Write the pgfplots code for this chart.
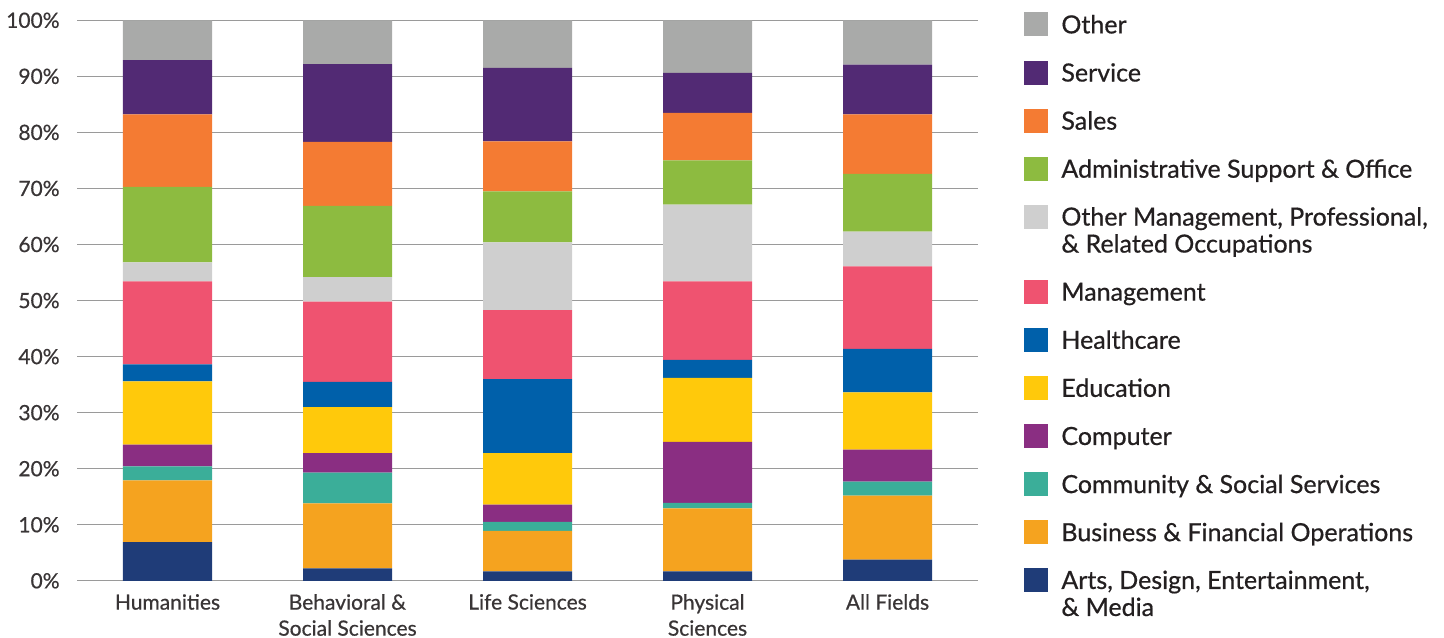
\documentclass[border=0pt]{standalone}
\usepackage{fontspec}
\setmainfont{Lato}[FakeBold=0.6]
\usepackage{pgfplots}
\usepackage{pgfplotstable}
\pgfplotsset{compat=1.18}

\definecolor{arts}{HTML}{1F3C78}
\definecolor{business}{HTML}{F5A31F}
\definecolor{community}{HTML}{3BAE99}
\definecolor{computer}{HTML}{8A2E82}
\definecolor{education}{HTML}{FFC90B}
\definecolor{healthcare}{HTML}{0060AA}
\definecolor{mgmt}{HTML}{EF5370}
\definecolor{othermgmt}{HTML}{CFCFCF}
\definecolor{admin}{HTML}{8DBB40}
\definecolor{sales}{HTML}{F47B33}
\definecolor{service}{HTML}{522A74}
\definecolor{other}{HTML}{A9AAA9}
\definecolor{txt}{HTML}{231F20}
\definecolor{gridc}{HTML}{9A9A9A}

% shares in percent, bottom to top
\pgfplotstableread{
x arts business community computer education healthcare mgmt othermgmt admin sales service other
0 6.9 11.0 2.5 3.9 11.3 3.0 14.8 3.4 13.5 12.9 9.7 7.1
1 2.2 11.6 5.5 3.5 8.2 4.5 14.3 4.4 12.7 11.4 13.9 7.8
2 1.7 7.2 1.6 3.1 9.2 13.2 12.3 12.1 9.1 8.9 13.1 8.5
3 1.7 11.2 1.0 10.9 11.4 3.2 14.0 13.7 7.9 8.5 7.1 9.4
4 3.8 11.4 2.5 5.7 10.2 7.8 14.7 6.2 10.3 10.6 8.9 7.9
}\datatable

\begin{document}
\begin{tikzpicture}
\begin{axis}[
    scale only axis,
    width=450pt, height=280.25pt,
    ybar stacked,
    bar width=44.5pt,
    xmin=-0.5, xmax=4.5,
    ymin=0, ymax=100,
    xtick={0,...,4},
    xticklabels={Humanities,{Behavioral \&\\Social Sciences},Life Sciences,{Physical\\Sciences},All Fields},
    ytick={0,10,...,100},
    yticklabel={\pgfmathprintnumber{\tick}\%},
    /pgf/number format/assume math mode=true,
    major tick length=0pt,
    axis line style={draw=none},
    ymajorgrids,
    grid style={gridc, line width=0.6pt},
    tick label style={font=\fontsize{10.5}{13}\selectfont, text=txt!90, inner sep=0pt},
    yticklabel style={xshift=-8.75pt},
    xticklabel style={align=center, yshift=-6.5pt},
    reverse legend,
    legend image code/.code={\fill[#1,draw=none] (0pt,-4.2pt) rectangle (12pt,7.8pt);},
    legend style={
        at={(1,1)}, anchor=north west, xshift=23.25pt, yshift=4.15pt,
        draw=none, inner sep=0pt, row sep=9.5pt, column sep=6.5pt,
        cells={anchor=west, align=left},
        nodes={inner sep=0pt, text depth=, text=txt,
               font=\fontsize{12.5}{13.5}\selectfont, execute at begin node=\strut},
    },
]
\addplot[fill=arts, draw=none, legend image code/.code={\fill[arts] (0pt,2.55pt) rectangle (12pt,14.55pt);}] table[x=x, y=arts] {\datatable};
\addlegendentry{Arts, Design, Entertainment,\\\strut\& Media}
\addplot[fill=business, draw=none] table[x=x, y=business] {\datatable};
\addlegendentry{Business \& Financial Operations}
\addplot[fill=community, draw=none] table[x=x, y=community] {\datatable};
\addlegendentry{Community \& Social Services}
\addplot[fill=computer, draw=none] table[x=x, y=computer] {\datatable};
\addlegendentry{Computer}
\addplot[fill=education, draw=none] table[x=x, y=education] {\datatable};
\addlegendentry{Education}
\addplot[fill=healthcare, draw=none] table[x=x, y=healthcare] {\datatable};
\addlegendentry{Healthcare}
\addplot[fill=mgmt, draw=none] table[x=x, y=mgmt] {\datatable};
\addlegendentry{Management}
\addplot[fill=othermgmt, draw=none, legend image code/.code={\fill[othermgmt] (0pt,2.55pt) rectangle (12pt,14.55pt);}] table[x=x, y=othermgmt] {\datatable};
\addlegendentry{Other Management, Professional,\\\strut\& Related Occupations}
\addplot[fill=admin, draw=none] table[x=x, y=admin] {\datatable};
\addlegendentry{Administrative Support \& Office}
\addplot[fill=sales, draw=none] table[x=x, y=sales] {\datatable};
\addlegendentry{Sales}
\addplot[fill=service, draw=none] table[x=x, y=service] {\datatable};
\addlegendentry{Service}
\addplot[fill=other, draw=none] table[x=x, y=other] {\datatable};
\addlegendentry{Other}
\end{axis}
\pgfresetboundingbox
\path ([xshift=-38.75pt,yshift=-28.1pt]current axis.south west) rectangle ([xshift=233.25pt,yshift=10.15pt]current axis.north east);
\end{tikzpicture}
\end{document}
